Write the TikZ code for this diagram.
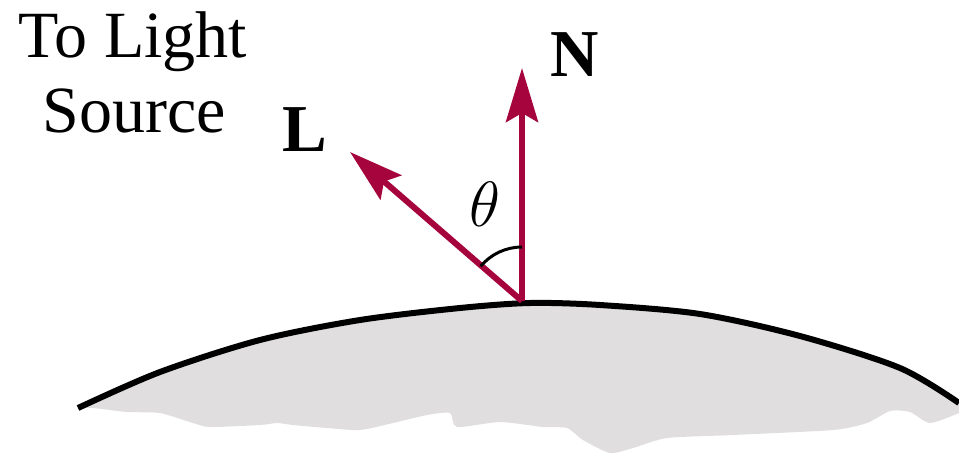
\RequirePackage{fix-cm}
\documentclass[tikz,border=0pt]{standalone}
\usepackage{fontspec}
\setmainfont{Liberation Serif}
\usetikzlibrary{arrows.meta}
\definecolor{vec}{RGB}{165,5,60}
\definecolor{ground}{RGB}{224,222,223}
\tikzset{
  vector/.style={draw=vec, line width=6pt, -{Stealth[length=54pt, width=32pt, inset=9pt]}},
  label/.style={inner sep=0pt, font=\fontsize{66}{66}\selectfont},
  boldlabel/.style={inner sep=0pt, font=\fontsize{67}{67}\selectfont\bfseries},
}
\begin{document}
\begin{tikzpicture}[x=1pt, y=-1pt]
\useasboundingbox (0,0) rectangle (959,456);
% ground
\fill[ground] plot[smooth] coordinates {(78,408) (160,372) (260,340) (360,320) (460,308) (530,303) (600,305) (700,314) (800,336) (900,368) (959,403)}
  -- plot[smooth, tension=0.4] coordinates {(959,413) (930,423) (910,412) (890,411) (867,423) (833,430) (733,435) (667,438) (633,448) (610,453) (583,440) (567,428) (543,427) (500,422) (457,427) (450,413) (427,415) (393,423) (360,430) (327,428) (293,425) (277,423) (260,425) (210,427) (193,423) (160,413) (127,412) (93,408) (78,408)} -- cycle;
% surface
\draw[line width=6pt] plot[smooth] coordinates {(78,408) (160,372) (260,340) (360,320) (460,308) (530,303) (600,305) (700,314) (800,336) (900,368) (959,403)};
% vectors
\coordinate (O) at (522,301);
\coordinate (Ntip) at (522,68);
\coordinate (Ltip) at (350,152);
\draw[vector] (O) -- (Ntip);
\draw[vector] (O) -- (Ltip);
% angle
\draw[line width=3pt] ([shift={(-90:54)}]O) arc[start angle=-90, end angle=-140, radius=54];
\node[inner sep=0pt, font=\fontsize{64}{64}\selectfont] (theta) at (485,204) {$\theta$};
% labels
\node[label, anchor=base] (to) at (133,57) {To Light};
\node[label, anchor=base] (src) at (134,132) {Source};
\node[boldlabel, anchor=base] (L) at (305,151) {L};
\node[boldlabel, anchor=base] (N) at (575,76) {N};
\end{tikzpicture}
\end{document}
